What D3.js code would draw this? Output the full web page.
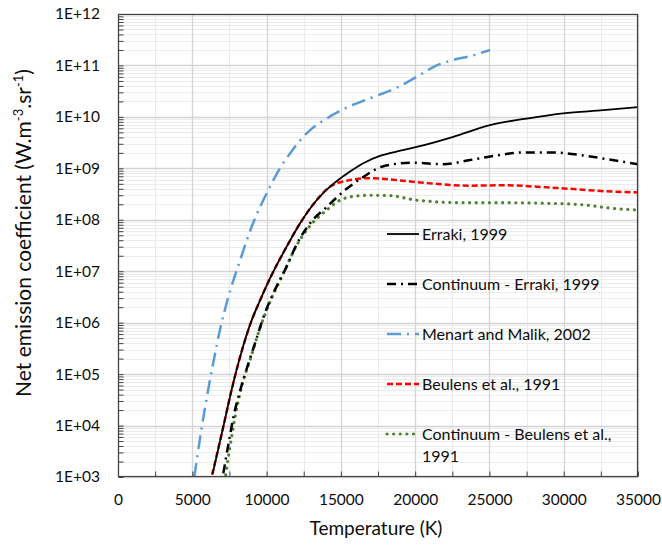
<!DOCTYPE html>
<html>
<head>
<meta charset="utf-8">
<script src="https://cdn.jsdelivr.net/npm/d3@7"></script>
<style>
  html, body { margin: 0; padding: 0; background: #fff; }
  svg text { font-family: Lato, "Open Sans", sans-serif; fill: #0d0d0d; }
</style>
</head>
<body>
<svg id="chart" width="662" height="547"></svg>
<script>
// Temperature (K) and net emission coefficient (W.m-3.sr-1) per source
const errakiT      = [6370, 7090, 7650, 8320, 9000, 9510, 10230, 11350, 12250, 13370, 14270, 15620, 16510, 17630, 18800, 20100, 22570, 25040, 27730, 29970, 32670, 35000];
const errakiV      = [1150, 9550, 5.0e4, 2.75e5, 1.12e6, 2.51e6, 7.25e6, 3.0e7, 8.5e7, 2.4e8, 4.4e8, 8.7e8, 1.26e9, 1.74e9, 2.14e9, 2.6e9, 4.1e9, 6.9e9, 9.5e9, 1.17e10, 1.35e10, 1.55e10];

const contErrakiT  = [7090, 7420, 7760, 8260, 8770, 9290, 9780, 10450, 11350, 12020, 12920, 14050, 15390, 16510, 17860, 19880, 21900, 23690, 25490, 27280, 29080, 31100, 32890, 35000];
const contErrakiV  = [1175, 4170, 1.41e4, 5.25e4, 1.58e5, 4.57e5, 1.26e6, 3.7e6, 1.23e7, 3.3e7, 8.5e7, 1.78e8, 4.0e8, 6.8e8, 1.1e9, 1.29e9, 1.2e9, 1.45e9, 1.78e9, 2.04e9, 2.04e9, 1.82e9, 1.51e9, 1.2e9];

const menartT      = [5136, 5590, 6010, 6420, 6910, 7330, 8260, 9040, 10070, 10900, 11580, 12700, 14050, 15170, 16960, 18760, 20100, 21450, 22350, 23920, 25040];
const menartV      = [1000, 7590, 3.98e4, 1.7e5, 8.3e5, 2.51e6, 1.78e7, 7.9e7, 3.55e8, 1.0e9, 1.95e9, 4.8e9, 9.3e9, 1.41e10, 2.3e10, 3.7e10, 6.0e10, 1.0e11, 1.23e11, 1.58e11, 2.0e11];

const beulensT     = [6330, 7090, 7650, 8320, 9000, 9510, 10230, 11350, 12250, 13370, 14270, 15620, 16960, 18760, 21000, 23690, 25930, 28180, 30420, 32670, 35000];
const beulensV     = [1100, 9550, 5.0e4, 2.75e5, 1.12e6, 2.51e6, 7.25e6, 3.0e7, 8.5e7, 2.4e8, 4.4e8, 5.9e8, 6.45e8, 5.9e8, 5.1e8, 4.6e8, 4.7e8, 4.4e8, 4.0e8, 3.6e8, 3.4e8];

const contBeulensT = [7250, 7540, 7880, 8320, 8880, 9440, 10190, 11130, 12020, 12920, 14050, 14940, 16060, 17000, 18310, 20100, 23240, 25930, 28630, 31320, 33340, 35000];
const contBeulensV = [1100, 3890, 1.48e4, 5.75e4, 1.86e5, 6.2e5, 2.4e6, 9.1e6, 3.16e7, 7.6e7, 1.55e8, 2.4e8, 2.9e8, 3.0e8, 2.95e8, 2.4e8, 2.15e8, 2.15e8, 2.1e8, 1.95e8, 1.66e8, 1.55e8];

const xTickLabels = [0, 5000, 10000, 15000, 20000, 25000, 30000, 35000];
const yTickLabels = ["1E+03", "1E+04", "1E+05", "1E+06", "1E+07", "1E+08", "1E+09", "1E+10", "1E+11", "1E+12"];
const legendNames = ["Erraki, 1999", "Continuum - Erraki, 1999", "Menart and Malik, 2002", "Beulens et al., 1991", "Continuum - Beulens et al., 1991"];

const svg = d3.select("#chart");
const plot = { left: 118, top: 14, right: 638, bottom: 477 };

const x = d3.scaleLinear().domain([0, 35000]).range([plot.left, plot.right]);
const y = d3.scaleLog().domain([1e3, 1e12]).range([plot.bottom, plot.top]);

const decades = d3.range(3, 13).map(e => Math.pow(10, e));
const minorY = [];
for (let e = 3; e < 12; e++) for (let k = 2; k <= 9; k++) minorY.push(k * Math.pow(10, e));
const majorX = d3.range(0, 35001, 5000);
const minorX = d3.range(2500, 35000, 5000);

// gridlines
const grid = svg.append("g");
grid.selectAll(".ymin").data(minorY).join("line")
  .attr("x1", plot.left).attr("x2", plot.right)
  .attr("y1", d => Math.round(y(d)) + 0.5).attr("y2", d => Math.round(y(d)) + 0.5)
  .attr("stroke", "#ececec").attr("stroke-width", 1);
grid.selectAll(".xmin").data(minorX).join("line")
  .attr("y1", plot.top).attr("y2", plot.bottom)
  .attr("x1", d => Math.round(x(d)) + 0.5).attr("x2", d => Math.round(x(d)) + 0.5)
  .attr("stroke", "#ebebeb").attr("stroke-width", 1);
grid.selectAll(".ymaj").data(decades).join("line")
  .attr("x1", plot.left).attr("x2", plot.right)
  .attr("y1", d => Math.round(y(d)) + 0.5).attr("y2", d => Math.round(y(d)) + 0.5)
  .attr("stroke", "#d4d4d4").attr("stroke-width", 1.3);
grid.selectAll(".xmaj").data(majorX).join("line")
  .attr("y1", plot.top).attr("y2", plot.bottom)
  .attr("x1", d => Math.round(x(d)) + 0.5).attr("x2", d => Math.round(x(d)) + 0.5)
  .attr("stroke", "#d4d4d4").attr("stroke-width", 1.3);

// series
svg.append("clipPath").attr("id", "plotclip").append("rect")
  .attr("x", plot.left).attr("y", plot.top)
  .attr("width", plot.right - plot.left).attr("height", plot.bottom - plot.top);

const series = [
  { T: menartT,      V: menartV,      color: "#5b9bd5", width: 2.5, dash: "14,6,2,6", cap: "butt" },
  { T: contBeulensT, V: contBeulensV, color: "#548235", width: 3.2, dash: "0.1,6.5",  cap: "round" },
  { T: beulensT,     V: beulensV,     color: "#ff0000", width: 2.5, dash: "6,3",      cap: "butt" },
  { T: errakiT,      V: errakiV,      color: "#000000", width: 1.8, dash: null,       cap: "butt" },
  { T: contErrakiT,  V: contErrakiV,  color: "#000000", width: 2.5, dash: "9,5,2,5",  cap: "butt" }
];

const line = d3.line().x(d => x(d[0])).y(d => y(d[1])).curve(d3.curveMonotoneX);
const lines = svg.append("g").attr("clip-path", "url(#plotclip)");
series.forEach(s => {
  lines.append("path")
    .attr("d", line(s.T.map((t, i) => [t, s.V[i]])))
    .attr("fill", "none")
    .attr("stroke", s.color)
    .attr("stroke-width", s.width)
    .attr("stroke-dasharray", s.dash)
    .attr("stroke-linecap", s.cap)
    .attr("stroke-linejoin", "round");
});

// plot border
svg.append("rect")
  .attr("x", plot.left + 0.5).attr("y", plot.top + 0.5)
  .attr("width", plot.right - plot.left - 1).attr("height", plot.bottom - plot.top - 1)
  .attr("fill", "none").attr("stroke", "#404040").attr("stroke-width", 1.2);

// axes
const yAxis = d3.axisLeft(y).tickValues(decades).tickSize(0).tickPadding(18)
  .tickFormat((d, i) => yTickLabels[i]);
const gy = svg.append("g").attr("transform", `translate(${plot.left},0)`).call(yAxis);
gy.select(".domain").remove();
gy.selectAll("text").attr("font-size", 15.5).attr("fill", "#0d0d0d");

const yMinorAxis = d3.axisLeft(y).tickValues(minorY.concat(decades)).tickSize(-5).tickFormat("");
const gym = svg.append("g").attr("transform", `translate(${plot.left + 0.5},0)`).call(yMinorAxis);
gym.select(".domain").remove();
gym.selectAll("line").attr("stroke", "#404040");

const xAxis = d3.axisBottom(x).tickValues(xTickLabels).tickSize(0).tickPadding(17).tickFormat(d => String(d));
const gx = svg.append("g").attr("transform", `translate(0,${plot.bottom})`).call(xAxis);
gx.select(".domain").remove();
gx.selectAll("text").attr("font-size", 15.5).attr("fill", "#0d0d0d");

const xMinorAxis = d3.axisBottom(x).tickValues(majorX.concat(minorX)).tickSize(-5).tickFormat("");
const gxm = svg.append("g").attr("transform", `translate(0,${plot.bottom - 0.5})`).call(xMinorAxis);
gxm.select(".domain").remove();
gxm.selectAll("line").attr("stroke", "#404040");

// axis titles
svg.append("text")
  .attr("x", (plot.left + plot.right) / 2 - 2).attr("y", 535)
  .attr("text-anchor", "middle").attr("font-size", 19)
  .text("Temperature (K)");

const yt = svg.append("text")
  .attr("transform", "translate(31,233) rotate(-90)")
  .attr("text-anchor", "middle").attr("font-size", 21);
yt.append("tspan").text("Net emission coefficient (W.m");
yt.append("tspan").attr("font-size", 13).attr("baseline-shift", "super").text("-3");
yt.append("tspan").text(".sr");
yt.append("tspan").attr("font-size", 13).attr("baseline-shift", "super").text("-1");
yt.append("tspan").text(")");

// legend
const legendOrder = [3, 4, 0, 2, 1];
const leg = svg.append("g");
legendOrder.forEach((si, i) => {
  const s = series[si];
  const ly = 234 + i * 50;
  leg.append("line")
    .attr("x1", 387).attr("x2", 419).attr("y1", ly).attr("y2", ly)
    .attr("stroke", s.color).attr("stroke-width", s.width)
    .attr("stroke-dasharray", s.dash).attr("stroke-linecap", s.cap);
  const t = leg.append("text").attr("x", 422).attr("y", ly + 5.5).attr("font-size", 16);
  if (i === 4) {
    t.append("tspan").attr("x", 422).text("Continuum - Beulens et al.,");
    t.append("tspan").attr("x", 422).attr("dy", 22).text("1991");
  } else {
    t.text(legendNames[i]);
  }
});
</script>
</body>
</html>
